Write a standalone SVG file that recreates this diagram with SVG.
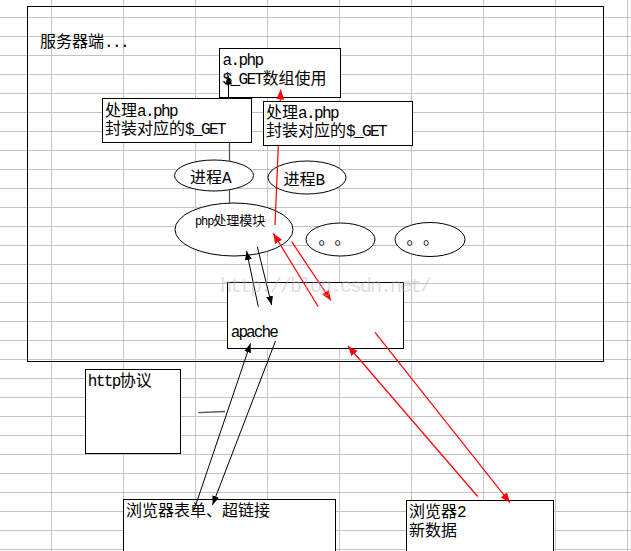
<svg xmlns="http://www.w3.org/2000/svg" width="631" height="551" viewBox="0 0 631 551">
<style>
.grid line{stroke:#c4c1c7;stroke-width:1}
.box{fill:#fff;stroke:#000;stroke-width:1}
.frame{fill:none;stroke:#000;stroke-width:1}
.t{font-family:"Liberation Mono","Noto Sans CJK SC",monospace;font-size:16px;fill:#000}
.s{font-size:13px}
.l{font-family:"Liberation Mono",monospace;letter-spacing:-1.6px}
.ls{font-family:"Liberation Mono",monospace;font-size:12px;letter-spacing:-1.1px}
.c{font-family:"Noto Sans CJK SC",sans-serif}
.blk{stroke:#000;stroke-width:1;fill:none}
.gry{stroke:#555;stroke-width:1.3;fill:none}
.red{stroke:#ff0000;stroke-width:1.2;fill:none}
.wm{font-family:"Liberation Mono",monospace;font-size:20px;fill:#b8b0b0;fill-opacity:0.45;letter-spacing:-2px}
</style>
<defs>
<marker id="ab" markerUnits="userSpaceOnUse" markerWidth="9" markerHeight="7" refX="9" refY="3.5" orient="auto"><path d="M0,0 L9,3.5 L0,7 z" fill="#000"/></marker>
<marker id="ar" markerUnits="userSpaceOnUse" markerWidth="10" markerHeight="8" refX="10" refY="4" orient="auto"><path d="M0,0 L10,4 L0,8 z" fill="#ff0000"/></marker>
</defs>
<rect width="631" height="551" fill="#fff"/>
<g class="grid">
<line x1="51.5" y1="0" x2="51.5" y2="551"/><line x1="123.5" y1="0" x2="123.5" y2="551"/><line x1="195.5" y1="0" x2="195.5" y2="551"/><line x1="267.5" y1="0" x2="267.5" y2="551"/><line x1="339.5" y1="0" x2="339.5" y2="551"/><line x1="411.5" y1="0" x2="411.5" y2="551"/><line x1="483.5" y1="0" x2="483.5" y2="551"/><line x1="555.5" y1="0" x2="555.5" y2="551"/><line x1="627.5" y1="0" x2="627.5" y2="551"/>
<line x1="0" y1="17.5" x2="631" y2="17.5"/><line x1="0" y1="36.5" x2="631" y2="36.5"/><line x1="0" y1="55.5" x2="631" y2="55.5"/><line x1="0" y1="74.5" x2="631" y2="74.5"/><line x1="0" y1="93.5" x2="631" y2="93.5"/><line x1="0" y1="112.5" x2="631" y2="112.5"/><line x1="0" y1="131.5" x2="631" y2="131.5"/><line x1="0" y1="150.5" x2="631" y2="150.5"/><line x1="0" y1="169.5" x2="631" y2="169.5"/><line x1="0" y1="188.5" x2="631" y2="188.5"/><line x1="0" y1="207.5" x2="631" y2="207.5"/><line x1="0" y1="226.5" x2="631" y2="226.5"/><line x1="0" y1="245.5" x2="631" y2="245.5"/><line x1="0" y1="264.5" x2="631" y2="264.5"/><line x1="0" y1="283.5" x2="631" y2="283.5"/><line x1="0" y1="302.5" x2="631" y2="302.5"/><line x1="0" y1="321.5" x2="631" y2="321.5"/><line x1="0" y1="340.5" x2="631" y2="340.5"/><line x1="0" y1="359.5" x2="631" y2="359.5"/><line x1="0" y1="378.5" x2="631" y2="378.5"/><line x1="0" y1="397.5" x2="631" y2="397.5"/><line x1="0" y1="416.5" x2="631" y2="416.5"/><line x1="0" y1="435.5" x2="631" y2="435.5"/><line x1="0" y1="454.5" x2="631" y2="454.5"/><line x1="0" y1="473.5" x2="631" y2="473.5"/><line x1="0" y1="492.5" x2="631" y2="492.5"/><line x1="0" y1="511.5" x2="631" y2="511.5"/><line x1="0" y1="530.5" x2="631" y2="530.5"/><line x1="0" y1="549.5" x2="631" y2="549.5"/>
</g>
<g id="server">
<rect class="frame" x="27.5" y="6.5" width="576" height="355"/>
<text class="t" x="40" y="47">服务器端<tspan class="l">...</tspan></text>
</g>
<g id="aphp">
<rect class="box" x="219.5" y="48.5" width="121" height="49"/>
<text class="t" x="222.5" y="64.5"><tspan class="l">a.php</tspan></text>
<text class="t" x="222.5" y="83.5"><tspan class="l">$_GET</tspan>数组使用</text>
</g>
<g id="handleA">
<rect class="box" x="102.5" y="98.5" width="149" height="44"/>
<text class="t" x="105" y="116">处理<tspan class="l">a.php</tspan></text>
<text class="t" x="105" y="134">封装对应的<tspan class="l">$_GET</tspan></text>
</g>
<g id="procA">
<ellipse class="box" cx="214" cy="175.5" rx="39.5" ry="15.5"/>
<text class="t" x="190" y="182.5">进程<tspan class="l">A</tspan></text>
</g>
<g id="procB">
<ellipse class="box" cx="307" cy="177.5" rx="39" ry="16.5"/>
<text class="t" x="283.5" y="185">进程<tspan class="l">B</tspan></text>
</g>
<g id="phpmod">
<ellipse class="box" cx="234" cy="229.5" rx="59" ry="26.5"/>
<text class="t s" x="195" y="225"><tspan class="ls">php</tspan>处理模块</text>
</g>
<g id="dots1">
<ellipse class="box" cx="340.5" cy="239.5" rx="34.5" ry="16.5"/>
<text class="t c" x="318.5 334.5" y="244">。。</text>
</g>
<g id="dots2">
<ellipse class="box" cx="430" cy="239.5" rx="35" ry="17"/>
<text class="t c" x="406.5 423" y="244">。。</text>
</g>
<g id="apache">
<rect class="box" x="227.5" y="282.5" width="176" height="66"/>
<text class="t" x="230.7" y="336.5"><tspan class="l" style="letter-spacing:-1.9px">apache</tspan></text>
</g>
<g id="http">
<rect class="box" x="85.5" y="369.5" width="95" height="84"/>
<text class="t" x="87.7" y="386"><tspan class="l">http</tspan>协议</text>
</g>
<g id="browser1">
<rect class="box" x="123.5" y="499.5" width="212" height="70"/>
<text class="t" x="126" y="516">浏览器表单、超链接</text>
</g>
<g id="browser2">
<rect class="box" x="406.5" y="500.5" width="147" height="70"/>
<text class="t" x="409" y="516.5">浏览器<tspan class="l">2</tspan></text>
<text class="t" x="409" y="535.5">新数据</text>
</g>
<g id="connectors">
<line class="red" x1="275" y1="225" x2="280.7" y2="89.5" marker-end="url(#ar)"/>
<line class="blk" x1="228.5" y1="98.5" x2="228.5" y2="75.5" marker-end="url(#ab)"/>
<line class="gry" x1="229.5" y1="142.5" x2="229.5" y2="161"/>
<line class="gry" x1="229.5" y1="190" x2="229.5" y2="203"/>
<line class="blk" x1="258.3" y1="306.7" x2="246.5" y2="251" marker-end="url(#ab)"/>
<line class="blk" x1="257.3" y1="246.7" x2="271.7" y2="305" marker-end="url(#ab)"/>
<line class="blk" x1="194" y1="510" x2="250.5" y2="343.5" marker-end="url(#ab)"/>
<line class="blk" x1="275.5" y1="341" x2="212.5" y2="505" marker-end="url(#ab)"/>
<line class="gry" x1="198.3" y1="412.7" x2="225" y2="411.5"/>
<line class="red" x1="318.3" y1="306.7" x2="273.3" y2="233.3" marker-end="url(#ar)"/>
<line class="red" x1="291.7" y1="241.7" x2="331" y2="300.5" marker-end="url(#ar)"/>
<line class="red" x1="477.7" y1="496.5" x2="348" y2="346" marker-end="url(#ar)"/>
<line class="red" x1="375" y1="332.3" x2="510" y2="502.7" marker-end="url(#ar)"/>
</g>
<g id="handleB">
<rect class="box" x="263.5" y="101.5" width="149" height="44"/>
<text class="t" x="266" y="117.5">处理<tspan class="l">a.php</tspan></text>
<text class="t" x="266" y="136">封装对应的<tspan class="l">$_GET</tspan></text>
</g>
<text class="wm" x="220" y="291.5">http://blog.csdn.net/</text>
</svg>
